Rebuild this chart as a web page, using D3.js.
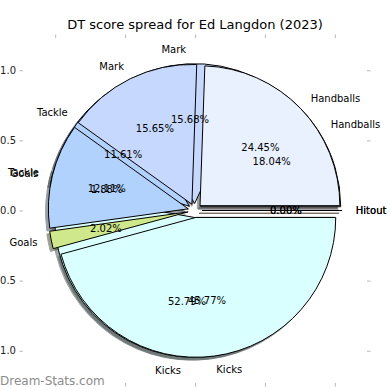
<!DOCTYPE html>
<html lang="en">
<head>
<meta charset="UTF-8">
<script src="https://d3js.org/d3.v7.min.js"></script>
<title>DT score spread</title>
<style>
  body { margin: 0; background: #fff; }
  svg { font-family: "DejaVu Sans", sans-serif; }
</style>
</head>
<body>
<svg id="plot"></svg>
<script>
// wedge order runs counter-clockwise from 3 o'clock
const categories = ["Hitout", "Handballs", "Mark", "Tackle", "Goals", "Kicks"];
const colours = ["#ffd8b0", "#eaf1fe", "#c6d8fd", "#b2d2fe", "#cfe88c", "#d9ffff"];
// two pies sit on top of each other; the first one drawn ends up underneath
const pieUnder = [0.00, 18.04, 15.68, 11.61, 1.88, 52.79];
const pieOver  = [0.00, 24.45, 15.65, 12.11, 2.02, 45.77];
const tickVals = [-1.0, -0.5, 0.0, 0.5, 1.0];

const width = 390, height = 390;
const margin = {top: 38, right: 23, bottom: 7, left: 23};
const lim = 1.23;
const explode = 0.05, labelDist = 1.1, pctDist = 0.6;

const svg = d3.select("#plot").attr("width", width).attr("height", height);

const x = d3.scaleLinear().domain([-lim, lim]).range([margin.left, width - margin.right]);
const y = d3.scaleLinear().domain([-lim, lim]).range([height - margin.bottom, margin.top]);
const r = x(1) - x(0);

const pie = d3.pie().sort(null).value(d => d)
    .startAngle(Math.PI / 2).endAngle(Math.PI / 2 - 2 * Math.PI);
const arc = d3.arc().innerRadius(0).outerRadius(r);

const shadowG = svg.append("g");
const wedgeG = svg.append("g");
const textG = svg.append("g").attr("font-size", 10).attr("fill", "#000");

function offset(a, k) {
  // d3 angle (0 = up, clockwise) to a pixel offset of k radii
  return [k * r * Math.sin(a), -k * r * Math.cos(a)];
}

function drawPie(values) {
  const arcs = pie(values);
  const total = d3.sum(values);
  arcs.forEach((d, i) => {
    const mid = (d.startAngle + d.endAngle) / 2;
    const [ex, ey] = offset(mid, explode);
    const cx = x(0) + ex, cy = y(0) + ey;
    const c = d3.rgb(colours[i]);
    const shade = d3.rgb(c.r * 0.3, c.g * 0.3, c.b * 0.3);

    shadowG.append("path")
      .attr("d", arc(d))
      .attr("transform", `translate(${cx + x(-0.02) - x(0)},${cy + y(-0.02) - y(0)})`)
      .attr("fill", shade).attr("stroke", shade).attr("stroke-width", 1)
      .attr("opacity", 0.5);

    wedgeG.append("path")
      .attr("d", arc(d))
      .attr("transform", `translate(${cx},${cy})`)
      .attr("fill", colours[i])
      .attr("stroke", "#000").attr("stroke-width", 1);

    const [lx, ly] = offset(mid, labelDist);
    textG.append("text")
      .attr("x", cx + lx).attr("y", cy + ly)
      .attr("dominant-baseline", "central")
      .attr("text-anchor", cx + lx > x(0) ? "start" : "end")
      .text(categories[i]);

    const [px, py] = offset(mid, pctDist);
    textG.append("text")
      .attr("x", cx + px).attr("y", cy + py)
      .attr("dominant-baseline", "central")
      .attr("text-anchor", "middle")
      .text(d3.format(".2f")(d.data / total * 100) + "%");
  });
}

drawPie(pieUnder);
drawPie(pieOver);

// axes: no spines, light tick marks
const fmt = d3.format(".1f");
function styleAxis(g) {
  g.select(".domain").remove();
  g.selectAll(".tick line").attr("stroke", "#b8b8b8");
  g.selectAll(".tick text").attr("fill", "#222").attr("font-size", 10)
    .attr("font-family", "DejaVu Sans, sans-serif");
}
svg.append("g").attr("transform", `translate(${margin.left},0)`)
  .call(d3.axisLeft(y).tickValues(tickVals).tickFormat(fmt).tickSize(3.5).tickPadding(3.5))
  .call(styleAxis);
svg.append("g").attr("transform", `translate(0,${height - margin.bottom})`)
  .call(d3.axisBottom(x).tickValues(tickVals).tickFormat(fmt).tickSize(3.5).tickPadding(6))
  .call(styleAxis);
svg.append("g").attr("transform", `translate(0,${margin.top})`)
  .call(d3.axisTop(x).tickValues(tickVals).tickFormat("").tickSize(3.5))
  .call(styleAxis);
svg.append("g").attr("transform", `translate(${width - margin.right},0)`)
  .call(d3.axisRight(y).tickValues(tickVals).tickFormat("").tickSize(3.5))
  .call(styleAxis);

svg.append("text")
  .attr("x", width / 2).attr("y", 29)
  .attr("text-anchor", "middle").attr("font-size", 13).attr("fill", "#000")
  .text("DT score spread for Ed Langdon (2023)");

svg.append("text")
  .attr("x", 0).attr("y", 385)
  .attr("font-size", 12).attr("fill", "#8c8c8c")
  .text("Dream-Stats.com");
</script>
</body>
</html>
